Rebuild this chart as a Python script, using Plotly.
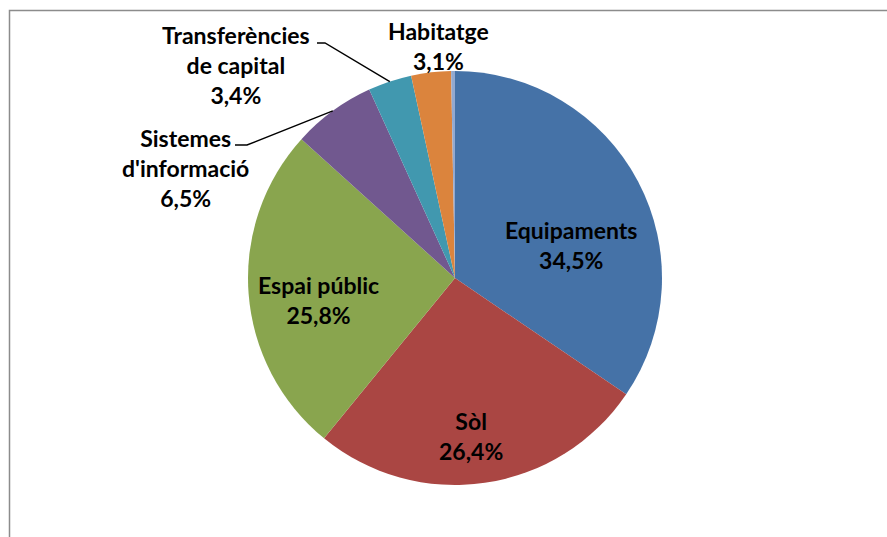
import math
import plotly.graph_objects as go

# Inversió per capítols (percentatge sobre el total)
categories = ["Equipaments", "Sòl", "Espai públic", "Sistemes d'informació",
              "Transferències de capital", "Habitatge", "Altres"]
values = [34.5, 26.4, 25.8, 6.5, 3.4, 3.1, 0.3]
colors = ["#4572A7", "#AA4643", "#89A54E", "#71588F", "#4198AF", "#DB843D", "#93A9CF"]

# Text shown for each labelled slice (line breaks as drawn)
label_text = {
    "Equipaments": "Equipaments",
    "Sòl": "Sòl",
    "Espai públic": "Espai públic",
    "Sistemes d'informació": "Sistemes<br>d'informació",
    "Transferències de capital": "Transferències<br>de capital",
    "Habitatge": "Habitatge",
}

W, H = 887, 537
CX, CY, R = 455, 278, 207  # pie centre and radius in pixels

# Label block centres (pixels) and optional leader-line elbows
label_pos = {
    "Equipaments": (571, 245),
    "Sòl": (471, 436),
    "Espai públic": (318, 300),
    "Sistemes d'informació": (185, 168),
    "Transferències de capital": (236, 65),
    "Habitatge": (438, 46),
}
leader = {
    "Sistemes d'informació": [(235, 145), (247, 145)],
    "Transferències de capital": [(317, 43), (325, 43)],
}


def px(x, y):
    return x / W, 1 - y / H


def fmt(v):
    return f"{v:.1f}".replace(".", ",") + "%"


fig = go.Figure(go.Pie(
    labels=categories,
    values=values,
    sort=False,
    direction="clockwise",
    rotation=0,
    marker=dict(colors=colors, line=dict(width=0)),
    textinfo="none",
    hovertemplate="%{label}: %{value}%<extra></extra>",
    domain=dict(x=[(CX - R) / W, (CX + R) / W], y=[(H - CY - R) / H, (H - CY + R) / H]),
))

font = dict(family="Lato, Carlito, Calibri, sans-serif", size=23, color="black", weight="bold")

total = sum(values)
cum = 0.0
shapes = []
annotations = []
for name, v in zip(categories, values):
    start = cum
    cum += v
    if name not in label_pos:
        continue
    lx, ly = label_pos[name]
    ax, ay = px(lx, ly)
    annotations.append(dict(
        x=ax, y=ay, xref="paper", yref="paper", xanchor="center", yanchor="middle",
        text=f"{label_text[name]}<br>{fmt(v)}", showarrow=False, font=font, align="center",
    ))
    if name in leader:
        mid = (start + v / 2) / total * 2 * math.pi
        ex, ey = CX + R * math.sin(mid), CY - R * math.cos(mid)
        pts = leader[name] + [(ex, ey)]
        path = "M " + " L ".join(f"{px(x, y)[0]},{px(x, y)[1]}" for x, y in pts)
        shapes.append(dict(type="path", xref="paper", yref="paper", path=path,
                           line=dict(color="black", width=1.4)))

# Chart-area frame (continues past the right and bottom edges)
shapes.append(dict(type="rect", xref="paper", yref="paper",
                   x0=9.5 / W, x1=1.05, y0=-0.05, y1=1 - 10.5 / H,
                   line=dict(color="#8C8C8C", width=1.5), layer="below"))

fig.update_layout(
    width=W, height=H,
    margin=dict(l=0, r=0, t=0, b=0),
    paper_bgcolor="white", plot_bgcolor="white",
    showlegend=False,
    shapes=shapes,
    annotations=annotations,
)

fig.write_html("out.html")
